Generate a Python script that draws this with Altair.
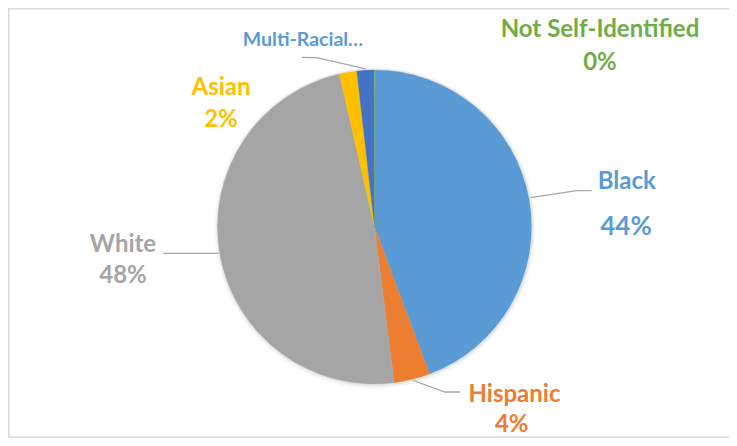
import altair as alt
import pandas as pd

# ---- data ----
categories = ["Black", "Hispanic", "White", "Asian", "Multi-Racial", "Not Self-Identified"]
shares = [44.3, 3.7, 48.4, 1.8, 1.75, 0.05]
label_names = ["Black", "Hispanic", "White", "Asian", "Multi-Racial\u2026", "Not Self-Identified"]
colors = ["#5B9BD5", "#ED7D31", "#A5A5A5", "#FFC000", "#4472C4", "#70AD47"]
label_colors = ["#5B9BD5", "#ED7D31", "#A5A5A5", "#FFC000", "#5B9BD5", "#70AD47"]

df = pd.DataFrame({
    "category": categories,
    "share": shares,
    "order": list(range(len(categories))),
    "label": label_names,
})

# ---- layout (chart pixel space) ----
W, H = 721, 430
CX, CY, R = 366.5, 219, 157
FONT = "Lato"

# per-label placement: name (x, baseline y, size), pct (x, baseline y, size) or None
LABEL_LAYOUT = {
    "Black": ((618.7, 181.3, 24), (618.0, 227.0, 26)),
    "Hispanic": ((506.5, 393.5, 24), (503.7, 423.5, 24)),
    "White": ((115.0, 243.7, 24), (115.0, 275.3, 24)),
    "Asian": ((213.0, 87.0, 24), (213.0, 118.7, 24)),
    "Multi-Racial": ((295.0, 38.3, 19.5), None),
    "Not Self-Identified": ((592.0, 28.7, 24), (592.0, 62.0, 24)),
}

LEADERS = {
    "Multi-Racial": [(293.7, 49.3), (308.7, 49.7), (357.7, 60.8)],
    "Black": [(522.5, 189.7), (568.7, 182.7), (583.7, 182.7)],
    "Hispanic": [(405.3, 372.5), (437.0, 384.0), (452.0, 384.0)],
    "White": [(155.3, 245.3), (210.5, 245.3)],
}

color_scale = alt.Scale(domain=categories, range=colors)
base = alt.Chart(df).transform_calculate(
    pct="format(datum.share / 100, '.0%')"
)

one = alt.Chart(pd.DataFrame({"k": [0]}))
shadow1 = one.mark_arc(radius=R + 3.5, theta=0, theta2=6.2832, color="#000000", opacity=0.035).encode(
    x=alt.value(CX + 0.5), y=alt.value(CY + 1)
)
shadow2 = one.mark_arc(radius=R + 1.8, theta=0, theta2=6.2832, color="#000000", opacity=0.06).encode(
    x=alt.value(CX + 0.5), y=alt.value(CY + 0.5)
)

pie = base.mark_arc(radius=R, strokeWidth=0.3).encode(
    theta=alt.Theta("share:Q", stack=True),
    order=alt.Order("order:Q"),
    color=alt.Color("category:N", scale=color_scale, legend=None),
    stroke=alt.Stroke("category:N", scale=color_scale, legend=None),
    x=alt.value(CX),
    y=alt.value(CY),
)

rows = []
for name, pts in LEADERS.items():
    for i, (px, py) in enumerate(pts):
        rows.append({"id": name, "seq": i, "px": px, "py": py})
leader_df = pd.DataFrame(rows)
leaders = alt.Chart(leader_df).mark_line(color="#A6A6A6", strokeWidth=1.3).encode(
    x=alt.X("px:Q", scale=None, axis=None),
    y=alt.Y("py:Q", scale=None, axis=None),
    detail="id:N",
    order="seq:Q",
)

text_layers = []
for cat, col in zip(categories, label_colors):
    name_pos, pct_pos = LABEL_LAYOUT[cat]
    sub = base.transform_filter(alt.datum.category == cat)
    nx, ny, ns = name_pos
    text_layers.append(
        sub.mark_text(font=FONT, fontWeight="bold", fontSize=ns, align="center",
                      baseline="alphabetic", color=col).encode(
            text="label:N", x=alt.value(nx), y=alt.value(ny))
    )
    if pct_pos is not None:
        px, py, ps = pct_pos
        text_layers.append(
            sub.mark_text(font=FONT, fontWeight="bold", fontSize=ps, align="center",
                          baseline="alphabetic", color=col).encode(
                text="pct:N", x=alt.value(px), y=alt.value(py))
        )

border_top = one.mark_rule(color="#D9D9D9", strokeWidth=1.5).encode(
    x=alt.value(0), x2=alt.value(W), y=alt.value(0.8))
border_left = one.mark_rule(color="#D9D9D9", strokeWidth=1.5).encode(
    x=alt.value(0.8), y=alt.value(0), y2=alt.value(H))
border_bottom = one.mark_rule(color="#D9D9D9", strokeWidth=1.5).encode(
    x=alt.value(0), x2=alt.value(W), y=alt.value(H - 0.8))

chart = alt.layer(
    shadow1, shadow2, pie, leaders, *text_layers, border_top, border_left, border_bottom
).properties(
    width=W, height=H, padding=0, autosize=alt.AutoSizeParams(type="none"),
    background="white",
).configure_view(stroke=None)

chart.save("out.html", embed_options={"renderer": "svg", "actions": False})
